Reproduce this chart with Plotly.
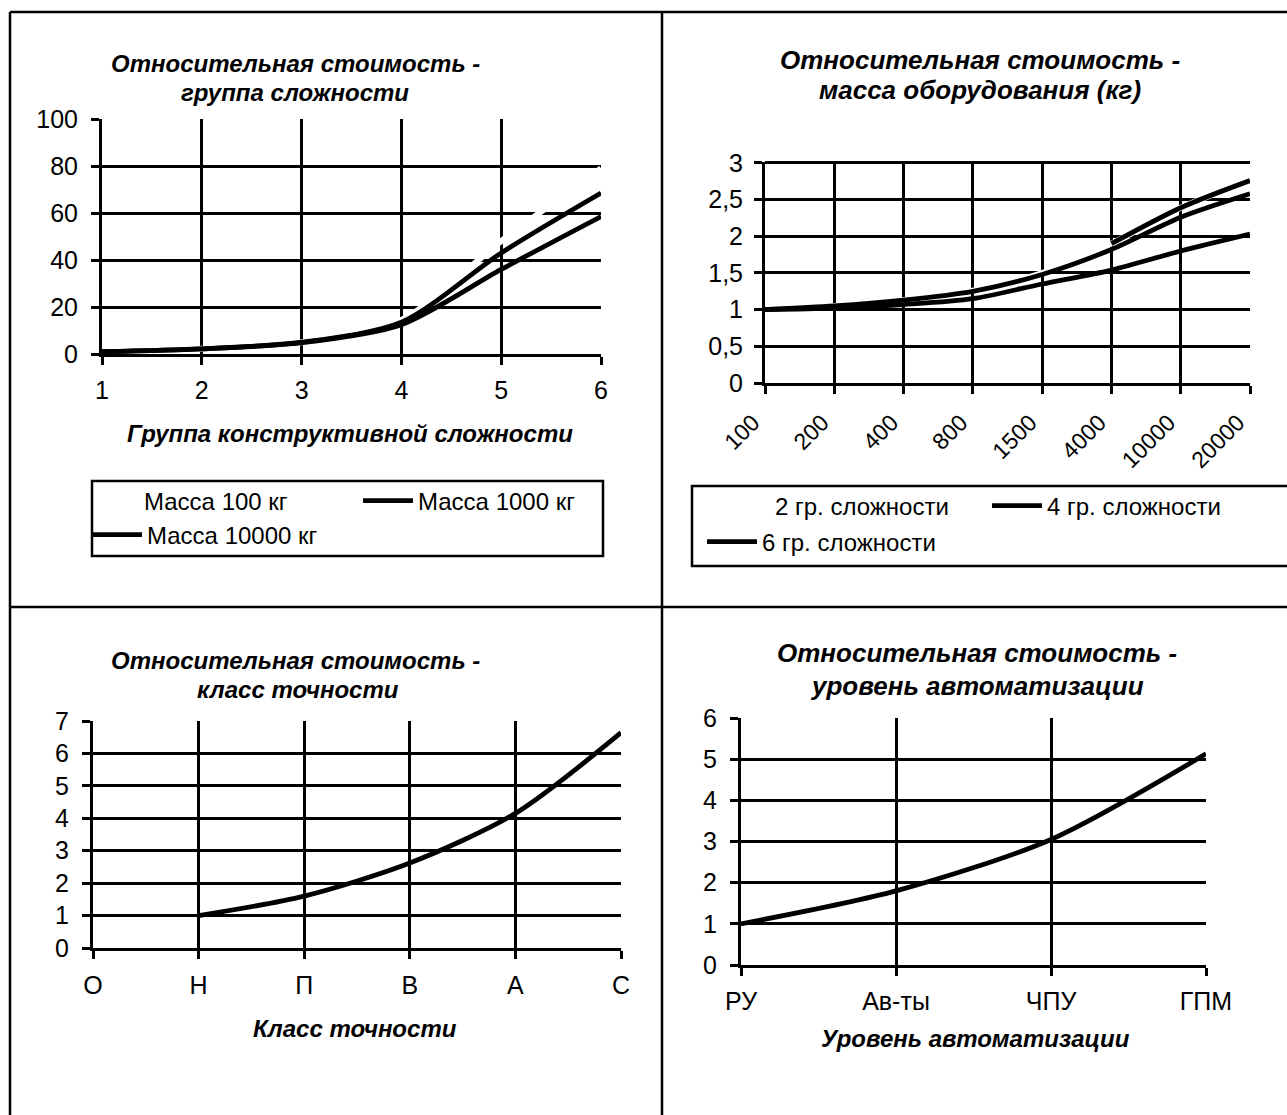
import plotly.graph_objects as go

W, H = 1287, 1115
FONT = "Liberation Sans, Arial, sans-serif"


def px(x):
    return x / W


def py(y):
    return 1 - y / H


# ---------------- data ----------------
# Chart 1: relative cost vs complexity group
complexity_groups = [1, 2, 3, 4, 5, 6]
mass_100 = [1, 2.2, 5, 14.5, 48, 79]
mass_1000 = [1, 2.2, 5, 13.5, 43, 68.5]
mass_10000 = [1, 2.2, 4.8, 12.5, 36, 58.5]

# Chart 2: relative cost vs equipment mass (kg)
mass_labels = ["100", "200", "400", "800", "1500", "4000", "10000", "20000"]
grp2 = [1.0, 1.05, 1.13, 1.26, 1.5, 1.9, 2.39, 2.76]
grp4 = [1.0, 1.05, 1.13, 1.25, 1.48, 1.82, 2.26, 2.58]
grp6 = [1.0, 1.02, 1.07, 1.15, 1.35, 1.54, 1.8, 2.03]
grp2_printed_from = 5  # only the tail of the faint series is legible in print
y2_ticks = [0, 0.5, 1, 1.5, 2, 2.5, 3]
y2_labels = ["0", "0,5", "1", "1,5", "2", "2,5", "3"]

# Chart 3: relative cost vs accuracy class
accuracy_classes = ["О", "Н", "П", "В", "А", "С"]
accuracy_cost = [None, 1.0, 1.6, 2.62, 4.15, 6.64]

# Chart 4: relative cost vs automation level
automation_levels = ["РУ", "Ав-ты", "ЧПУ", "ГПМ"]
automation_cost = [1.0, 1.8, 3.05, 5.13]

# ---------------- figure ----------------
fig = go.Figure()

LW = 4.8
black_line = dict(color="black", width=LW, shape="spline", smoothing=0.8)
white_line = dict(color="white", width=6, shape="spline", smoothing=0.8)

# chart 1
fig.add_trace(go.Scatter(x=complexity_groups, y=mass_100, mode="lines", name="Масса 100 кг",
                         line=white_line, xaxis="x", yaxis="y", legend="legend"))
fig.add_trace(go.Scatter(x=complexity_groups, y=mass_1000, mode="lines", name="Масса 1000 кг",
                         line=black_line, xaxis="x", yaxis="y", legend="legend2"))
fig.add_trace(go.Scatter(x=complexity_groups, y=mass_10000, mode="lines", name="Масса 10000 кг",
                         line=black_line, xaxis="x", yaxis="y", legend="legend3"))

# chart 2
fig.add_trace(go.Scatter(x=mass_labels, y=grp2, mode="lines", name="2 гр. сложности",
                         line=white_line, xaxis="x2", yaxis="y2", legend="legend4"))
fig.add_trace(go.Scatter(x=mass_labels, y=grp4, mode="lines", name="4 гр. сложности",
                         line=black_line, xaxis="x2", yaxis="y2", legend="legend5"))
fig.add_trace(go.Scatter(x=mass_labels, y=grp6, mode="lines", name="6 гр. сложности",
                         line=black_line, xaxis="x2", yaxis="y2", legend="legend6"))
fig.add_trace(go.Scatter(x=mass_labels[grp2_printed_from:], y=grp2[grp2_printed_from:], mode="lines",
                         name="2 гр. сложности", showlegend=False,
                         line=black_line, xaxis="x2", yaxis="y2"))

# chart 3
fig.add_trace(go.Scatter(x=accuracy_classes, y=accuracy_cost, mode="lines", showlegend=False,
                         line=black_line, xaxis="x3", yaxis="y3"))
# chart 4
fig.add_trace(go.Scatter(x=automation_levels, y=automation_cost, mode="lines", showlegend=False,
                         line=black_line, xaxis="x4", yaxis="y4"))

tickfont = dict(family=FONT, size=25, color="black")
ax = dict(showline=True, linecolor="black", linewidth=3, showgrid=True, gridcolor="black",
          gridwidth=2.5, ticks="outside", tickcolor="black", ticklen=8, tickwidth=2.5,
          zeroline=False, tickfont=tickfont, fixedrange=True, automargin=False)

fig.update_layout(
    xaxis=dict(ax, domain=[px(102), px(601)], anchor="y", range=[1, 6], tickvals=complexity_groups,
               ticklabelstandoff=4),
    yaxis=dict(ax, domain=[py(354), py(119)], anchor="x", range=[0, 100], dtick=20,
               ticklabelstandoff=8),
    xaxis2=dict(ax, domain=[px(765), px(1250)], anchor="y2", type="category", range=[0, 7],
                tickangle=-45, tickfont=dict(family=FONT, size=23, color="black"),
                ticklabelstandoff=6, ticklabelshift=-12),
    yaxis2=dict(ax, domain=[py(383), py(161.5)], anchor="x2", range=[0, 3.02],
                tickvals=y2_ticks, ticktext=y2_labels, ticklabelstandoff=6),
    xaxis3=dict(ax, domain=[px(93), px(621)], anchor="y3", type="category", range=[0, 5],
                categoryorder="array", categoryarray=accuracy_classes, ticklabelstandoff=5),
    yaxis3=dict(ax, domain=[py(948), py(721)], anchor="x3", range=[0, 7], dtick=1,
                ticklabelstandoff=8),
    xaxis4=dict(ax, domain=[px(741), px(1206)], anchor="y4", type="category", range=[0, 3],
                categoryorder="array", categoryarray=automation_levels, ticklabelstandoff=4),
    yaxis4=dict(ax, domain=[py(965), py(718)], anchor="x4", range=[0, 6], dtick=1,
                ticklabelstandoff=8),
)

legfont = dict(family=FONT, size=24, color="black")
leg = dict(bgcolor="rgba(0,0,0,0)", borderwidth=0, font=legfont, itemwidth=50,
           xanchor="left", yanchor="middle", orientation="v")
fig.update_layout(
    legend=dict(leg, x=px(104), y=py(501), itemwidth=30),
    legend2=dict(leg, x=px(358), y=py(501)),
    legend3=dict(leg, x=px(87), y=py(535)),
    legend4=dict(leg, x=px(715), y=py(506)),
    legend5=dict(leg, x=px(987), y=py(506)),
    legend6=dict(leg, x=px(702), y=py(542)),
)

# titles and axis titles
left_title = dict(family=FONT, size=24, color="black")
right_title = dict(family=FONT, size=26, color="black")
axtitle_font = dict(family=FONT, size=24, color="black")
annos = [
    (295, 64, "<b><i>Относительная стоимость -</i></b>", left_title),
    (295, 93, "<b><i>группа сложности</i></b>", left_title),
    (980, 60, "<b><i>Относительная стоимость -</i></b>", right_title),
    (980, 90, "<b><i>масса оборудования (кг)</i></b>", right_title),
    (295, 660, "<b><i>Относительная стоимость -</i></b>", left_title),
    (298, 689, "<b><i>класс точности</i></b>", left_title),
    (977, 653, "<b><i>Относительная стоимость -</i></b>", right_title),
    (977, 686, "<b><i>уровень автоматизации</i></b>", right_title),
    (350, 433, "<b><i>Группа конструктивной сложности</i></b>", axtitle_font),
    (355, 1028, "<b><i>Класс точности</i></b>", axtitle_font),
    (975, 1038, "<b><i>Уровень автоматизации</i></b>", axtitle_font),
]
fig.update_layout(annotations=[
    dict(x=px(x), y=py(y), xref="paper", yref="paper", text=t, showarrow=False,
         font=f, xanchor="center", yanchor="middle", align="center")
    for x, y, t, f in annos
])

# panel frames and legend boxes
frame = dict(color="black", width=2.5)
shapes = [
    dict(type="line", x0=px(10), x1=px(1287), y0=py(12), y1=py(12), line=frame),
    dict(type="line", x0=px(10), x1=px(10), y0=py(12), y1=py(1115), line=frame),
    dict(type="line", x0=px(662), x1=px(662), y0=py(12), y1=py(1115), line=frame),
    dict(type="line", x0=px(10), x1=px(1287), y0=py(607), y1=py(607), line=frame),
    dict(type="rect", x0=px(92), x1=px(603), y0=py(481), y1=py(556), line=frame),
    dict(type="rect", x0=px(692), x1=px(1290), y0=py(486), y1=py(566), line=frame),
]
for s in shapes:
    s.update(xref="paper", yref="paper")
fig.update_layout(shapes=shapes)

fig.update_layout(width=W, height=H, margin=dict(l=0, r=0, t=0, b=0, pad=0, autoexpand=False),
                  paper_bgcolor="white", plot_bgcolor="white", showlegend=True)

fig.write_html("out.html", config={"displayModeBar": False},
               post_script="document.body.style.margin='0';")
